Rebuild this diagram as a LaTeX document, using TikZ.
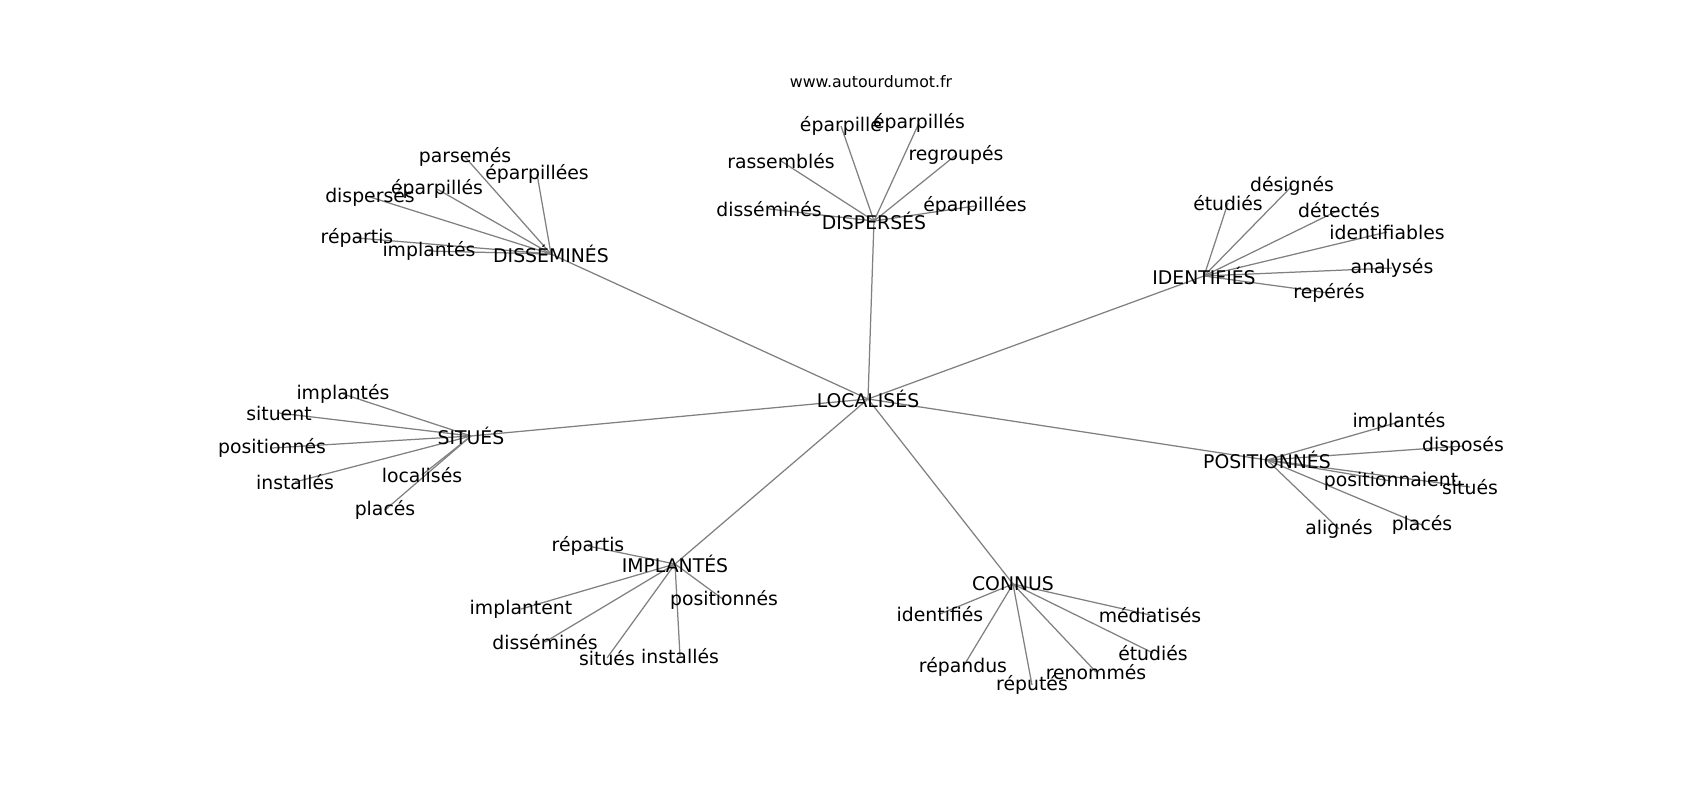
\documentclass[tikz,border=0pt]{standalone}
\usepackage{fontspec}
\setmainfont{DejaVu Sans}
\usetikzlibrary{backgrounds}
\tikzset{
  wlabel/.style={inner sep=0pt, font=\fontsize{13.6}{16}\selectfont, text=black},
  urlstyle/.style={inner sep=0pt, font=\fontsize{11.4}{14}\selectfont, text=black},
  link/.style={draw=gray, line width=0.9pt}
}
\begin{document}
\begin{tikzpicture}[x=0.01in, y=-0.01in]
\useasboundingbox (0,0) rectangle (1700,800);
\node[urlstyle] (url) at (871,82) {www.autourdumot.fr};
% hubs
\node[wlabel] (loc) at (868,399) {LOCALISÉS};
\node[wlabel] (dis) at (551,254) {DISSÉMINÉS};
\node[wlabel] (dsp) at (874,221) {DISPERSÉS};
\node[wlabel] (ide) at (1204,276) {IDENTIFIÉS};
\node[wlabel] (sit) at (471,436) {SITUÉS};
\node[wlabel] (pos) at (1267,460) {POSITIONNÉS};
\node[wlabel] (imp) at (675,564) {IMPLANTÉS};
\node[wlabel] (con) at (1013,584) {CONNUS};
% DISSÉMINÉS leaves
\node[wlabel] (dis1) at (465,157) {parsemés};
\node[wlabel] (dis2) at (537,174) {éparpillées};
\node[wlabel] (dis3) at (437,189) {éparpillés};
\node[wlabel] (dis4) at (370,197) {dispersés};
\node[wlabel] (dis5) at (357,238) {répartis};
\node[wlabel] (dis6) at (429,251) {implantés};
% DISPERSÉS leaves
\node[wlabel] (dsp1) at (841,126) {éparpillé};
\node[wlabel] (dsp2) at (919,123) {éparpillés};
\node[wlabel] (dsp3) at (781,161) {rassemblés};
\node[wlabel] (dsp4) at (956,155) {regroupés};
\node[wlabel] (dsp5) at (769,209) {disséminés};
\node[wlabel] (dsp6) at (975,206) {éparpillées};
% IDENTIFIÉS leaves
\node[wlabel] (ide1) at (1228,203) {étudiés};
\node[wlabel] (ide2) at (1292,186) {désignés};
\node[wlabel] (ide3) at (1339,210) {détectés};
\node[wlabel] (ide4) at (1387,232) {identifiables};
\node[wlabel] (ide5) at (1392,268) {analysés};
\node[wlabel] (ide6) at (1329,293) {repérés};
% SITUÉS leaves
\node[wlabel] (sit1) at (343,394) {implantés};
\node[wlabel] (sit2) at (279,413) {situent};
\node[wlabel] (sit3) at (272,448) {positionnés};
\node[wlabel] (sit4) at (295,482) {installés};
\node[wlabel] (sit5) at (422,475) {localisés};
\node[wlabel] (sit6) at (385,510) {placés};
% POSITIONNÉS leaves
\node[wlabel] (pos1) at (1399,422) {implantés};
\node[wlabel] (pos2) at (1463,446) {disposés};
\node[wlabel] (pos3) at (1391,481) {positionnaient};
\node[wlabel] (pos4) at (1470,487) {situés};
\node[wlabel] (pos5) at (1339,529) {alignés};
\node[wlabel] (pos6) at (1422,525) {placés};
% IMPLANTÉS leaves
\node[wlabel] (imp1) at (588,546) {répartis};
\node[wlabel] (imp2) at (521,609) {implantent};
\node[wlabel] (imp3) at (724,600) {positionnés};
\node[wlabel] (imp4) at (545,642) {disséminés};
\node[wlabel] (imp5) at (607,658) {situés};
\node[wlabel] (imp6) at (680,656) {installés};
% CONNUS leaves
\node[wlabel] (con1) at (940,614) {identifiés};
\node[wlabel] (con2) at (1150,615) {médiatisés};
\node[wlabel] (con3) at (1153,653) {étudiés};
\node[wlabel] (con4) at (963,667) {répandus};
\node[wlabel] (con5) at (1032,685) {réputés};
\node[wlabel] (con6) at (1096,672) {renommés};
\begin{pgfonlayer}{background}
\foreach \h in {dis,dsp,ide,sit,pos,imp,con}{
  \draw[link] (loc.center) -- (\h.center);
  \foreach \i in {1,...,6}{
    \draw[link] (\h.center) -- (\h\i.center);
  }
}
\end{pgfonlayer}
\end{tikzpicture}
\end{document}
